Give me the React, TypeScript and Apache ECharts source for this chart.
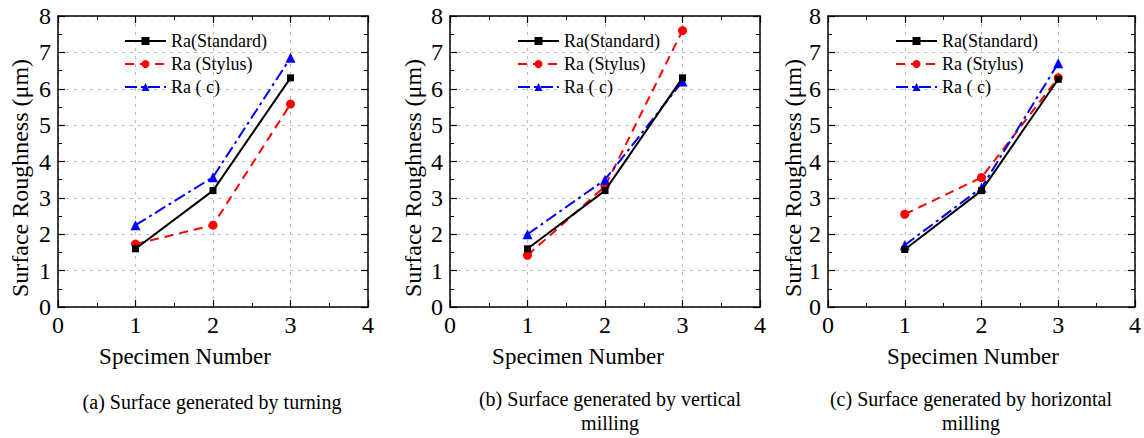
import React, { useEffect, useRef } from "react";
import * as echarts from "echarts";

const xValues = [1, 2, 3];
const seriesNames = ["Ra(Standard)", "Ra (Stylus)", "Ra ( c)"];

// (a) turning
const turningStandard = [1.6, 3.2, 6.3];
const turningStylus = [1.73, 2.25, 5.58];
const turningC = [2.25, 3.57, 6.85];

// (b) vertical milling
const verticalStandard = [1.6, 3.2, 6.3];
const verticalStylus = [1.42, 3.32, 7.6];
const verticalC = [2.0, 3.5, 6.2];

// (c) horizontal milling
const horizontalStandard = [1.58, 3.2, 6.26];
const horizontalStylus = [2.55, 3.56, 6.3];
const horizontalC = [1.7, 3.28, 6.7];

const captions = [
  "(a) Surface generated by turning",
  "(b) Surface generated by vertical\nmilling",
  "(c) Surface generated by horizontal\nmilling",
];
const xAxisTitle = "Specimen Number";
const yAxisTitle = "Surface Roughness (\u03bcm)";

const FONT = "Liberation Serif";

export default function App() {
  const ref = useRef<HTMLDivElement>(null);

  useEffect(() => {
    document.body.style.margin = "0";
    if (!ref.current) return;
    const chart = echarts.init(ref.current, undefined, { renderer: "svg" });

    const panels = [
      { left: 58, data: [turningStandard, turningStylus, turningC], legendLeft: 124, yLabelX: 20, xLabelX: 185, capX: 212, capY: 390 },
      { left: 450, data: [verticalStandard, verticalStylus, verticalC], legendLeft: 517, yLabelX: 413, xLabelX: 578, capX: 610, capY: 387 },
      { left: 828, data: [horizontalStandard, horizontalStylus, horizontalC], legendLeft: 895, yLabelX: 793, xLabelX: 973, capX: 971, capY: 387 },
    ];
    const top = 16;
    const width = 310;
    const height = 291;

    const grid: any[] = [];
    const xAxis: any[] = [];
    const yAxis: any[] = [];
    const series: any[] = [];
    const legend: any[] = [];
    const graphic: any[] = [];

    const styles = [
      { color: "#000000", symbol: "rect", symbolSize: 7, type: "solid" },
      { color: "#ff0000", symbol: "circle", symbolSize: 9, type: [9, 6] },
      { color: "#0000ff", symbol: "triangle", symbolSize: 10, type: [12, 4, 3, 4] },
    ];

    panels.forEach((p, i) => {
      grid.push({ left: p.left, top, width, height, containLabel: false });
      const common = {
        type: "value",
        min: 0,
        gridIndex: i,
        axisLine: { show: true, onZero: false, lineStyle: { color: "#000", width: 1.5 } },
        axisTick: { show: true, inside: true, length: 7, lineStyle: { color: "#000", width: 1.2 } },
        minorTick: { show: true, splitNumber: 2, length: 4, lineStyle: { color: "#000", width: 1 } },
        axisLabel: { color: "#000", fontFamily: FONT, fontSize: 24 },
      };
      xAxis.push({
        ...common,
        max: 4,
        interval: 1,
        position: "bottom",
        axisLabel: { ...common.axisLabel, margin: 6 },
        splitLine: { show: true, lineStyle: { color: "#bdbdbd", type: [3, 5], width: 1 } },
      });
      xAxis.push({
        ...common,
        max: 4,
        interval: 1,
        position: "top",
        axisLabel: { show: false },
        splitLine: { show: false },
      });
      yAxis.push({
        ...common,
        max: 8,
        interval: 1,
        position: "left",
        axisLabel: { ...common.axisLabel, margin: 7 },
        splitLine: { show: true, lineStyle: { color: "#bdbdbd", type: [3, 5], width: 1 } },
      });
      yAxis.push({
        ...common,
        max: 8,
        interval: 1,
        position: "right",
        axisLabel: { show: false },
        splitLine: { show: false },
      });

      p.data.forEach((vals, k) => {
        const s = styles[k];
        series.push({
          name: seriesNames[k],
          type: "line",
          xAxisIndex: i * 2,
          yAxisIndex: i * 2,
          data: xValues.map((x, j) => [x, vals[j]]),
          symbol: s.symbol,
          symbolSize: s.symbolSize,
          itemStyle: { color: s.color },
          lineStyle: { color: s.color, width: 2, type: s.type },
          z: 3 + (k === 0 ? 2 : k === 2 ? 1 : 0),
        });
      });

      legend.push({
        orient: "vertical",
        left: p.legendLeft,
        top: 32,
        padding: 0,
        itemWidth: 41,
        itemHeight: 10,
        itemGap: 5,
        data: seriesNames,
        textStyle: { fontFamily: FONT, fontSize: 18, color: "#000", lineHeight: 18 },
        selectedMode: false,
      });

      graphic.push({
        type: "text",
        x: p.yLabelX,
        y: 178,
        rotation: Math.PI / 2,
        style: {
          text: yAxisTitle,
          fontFamily: FONT,
          fontSize: 24,
          fill: "#000",
          align: "center",
          verticalAlign: "middle",
        },
      });
      graphic.push({
        type: "text",
        x: p.xLabelX,
        y: 356,
        style: {
          text: xAxisTitle,
          fontFamily: FONT,
          fontSize: 23,
          fill: "#000",
          align: "center",
          verticalAlign: "middle",
        },
      });
      graphic.push({
        type: "text",
        x: p.capX,
        y: p.capY,
        style: {
          text: captions[i],
          fontFamily: FONT,
          fontSize: 20,
          lineHeight: 24,
          fill: "#000",
          align: "center",
          verticalAlign: "top",
        },
      });
    });

    chart.setOption({
      animation: false,
      backgroundColor: "#ffffff",
      grid,
      xAxis,
      yAxis,
      series,
      legend,
      graphic,
    });

    return () => chart.dispose();
  }, []);

  return (
    <div
      ref={ref}
      style={{ position: "absolute", left: 0, top: 0, width: 1144, height: 438 }}
    />
  );
}
